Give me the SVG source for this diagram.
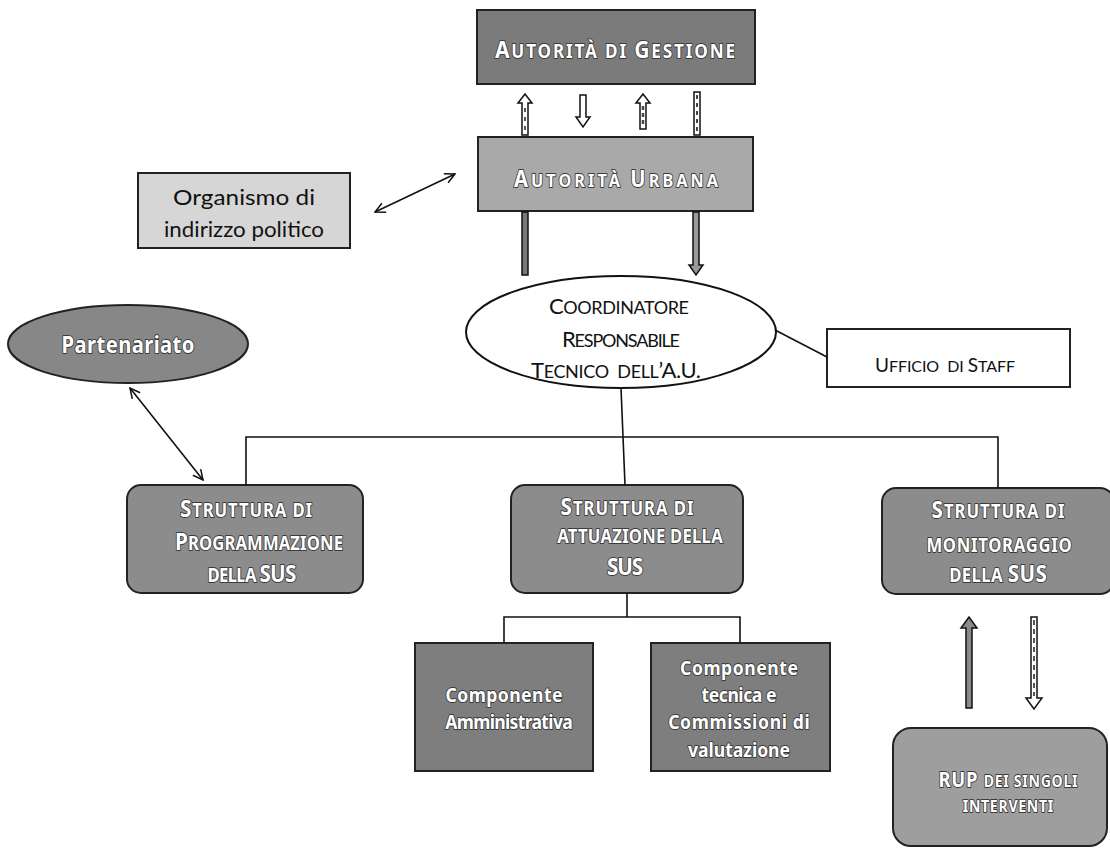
<svg xmlns="http://www.w3.org/2000/svg" width="1110" height="853" viewBox="0 0 1110 853">
<style>
  .t { font-family: "Noto Sans", "Open Sans", "Liberation Sans", sans-serif; text-anchor: middle; }
  .r { font-family: Lato, "Noto Sans", "Liberation Sans", sans-serif; text-anchor: middle; fill: #111111; }
  .w { fill: #ffffff; font-weight: bold; stroke: #3a3a3a; stroke-width: 1.8; paint-order: stroke; stroke-linejoin: round; }
  .ln { stroke: #111111; stroke-width: 1.6; fill: none; }
  .box { stroke: #222222; stroke-width: 2; }
  .blk { stroke: #111111; stroke-width: 1.5; }
</style>
<defs>
  <marker id="open" viewBox="0 0 12 12" refX="11" refY="6" markerWidth="12" markerHeight="12" markerUnits="userSpaceOnUse" orient="auto-start-reverse">
    <path d="M1,1 L11,6 L1,11" fill="none" stroke="#111" stroke-width="1.5"/>
  </marker>
</defs>
<rect width="1110" height="853" fill="#ffffff"/>

<g id="autorita-gestione">
  <rect x="477" y="10" width="278" height="74" fill="#7b7b7b" class="box"/>
  <text transform="translate(615,58) scale(0.88,1)" class="t w" font-size="24" textLength="273" lengthAdjust="spacing">A<tspan font-size="19.5">UTORITÀ DI </tspan>G<tspan font-size="19.5">ESTIONE</tspan></text>
</g>

<g id="autorita-urbana">
  <rect x="478" y="137" width="275" height="74" fill="#a9a9a9" class="box"/>
  <text transform="translate(616,187) scale(0.88,1)" class="t w" font-size="23" textLength="232" lengthAdjust="spacing">A<tspan font-size="18.5">UTORITÀ </tspan>U<tspan font-size="18.5">RBANA</tspan></text>
</g>

<g id="organismo">
  <rect x="138" y="173" width="212" height="75" fill="#d6d6d6" class="box"/>
  <text x="244" y="205" class="r" font-size="22" textLength="142" lengthAdjust="spacingAndGlyphs">Organismo di</text>
  <text x="244" y="237" class="r" font-size="22" textLength="160" lengthAdjust="spacingAndGlyphs">indirizzo politico</text>
</g>

<g id="coordinatore">
  <ellipse cx="621" cy="332" rx="155" ry="56" fill="#ffffff" stroke="#111" stroke-width="2"/>
  <text x="619" y="314" class="r" font-size="22" textLength="140" lengthAdjust="spacing">C<tspan font-size="18">OORDINATORE</tspan></text>
  <text x="621" y="347" class="r" font-size="22" textLength="118" lengthAdjust="spacing">R<tspan font-size="18">ESPONSABILE</tspan></text>
  <text x="616" y="378" class="r" font-size="22" textLength="170" lengthAdjust="spacing" xml:space="preserve">T<tspan font-size="18">ECNICO  DELL</tspan>’A.U.</text>
</g>

<g id="ufficio-staff">
  <rect x="827" y="329" width="243" height="58" fill="#ffffff" class="box"/>
  <text x="945" y="372" class="r" font-size="19" textLength="140" lengthAdjust="spacing" xml:space="preserve">U<tspan font-size="16">FFICIO  DI </tspan>S<tspan font-size="16">TAFF</tspan></text>
</g>

<g id="partenariato">
  <ellipse cx="128" cy="344" rx="120" ry="39" fill="#878787" stroke="#222" stroke-width="2"/>
  <text transform="translate(128,353) scale(0.88,1)" class="t w" font-size="23" textLength="151" lengthAdjust="spacing">Partenariato</text>
</g>

<g id="struttura-programmazione">
  <rect x="127" y="485" width="236" height="108" rx="14" fill="#8c8c8c" class="box"/>
  <text transform="translate(246,517) scale(0.88,1)" class="t w" font-size="23.5" textLength="150" lengthAdjust="spacing">S<tspan font-size="19">TRUTTURA DI</tspan></text>
  <text transform="translate(259,550) scale(0.88,1)" class="t w" font-size="23.5" textLength="191" lengthAdjust="spacing">P<tspan font-size="19">ROGRAMMAZIONE</tspan></text>
  <text transform="translate(252,582) scale(0.88,1)" class="t w" font-size="23.5" textLength="101" lengthAdjust="spacing"><tspan font-size="19">DELLA </tspan>SUS</text>
</g>

<g id="struttura-attuazione">
  <rect x="511" y="485" width="232" height="108" rx="14" fill="#8c8c8c" class="box"/>
  <text transform="translate(627,515) scale(0.88,1)" class="t w" font-size="23.5" textLength="151" lengthAdjust="spacing">S<tspan font-size="19">TRUTTURA DI</tspan></text>
  <text transform="translate(640,543) scale(0.88,1)" class="t w" font-size="19" textLength="188" lengthAdjust="spacing">ATTUAZIONE DELLA</text>
  <text transform="translate(625,575) scale(0.88,1)" class="t w" font-size="23.5" textLength="41" lengthAdjust="spacing">SUS</text>
</g>

<g id="struttura-monitoraggio">
  <rect x="882" y="488" width="232" height="106" rx="14" fill="#8c8c8c" class="box"/>
  <text transform="translate(998,518) scale(0.88,1)" class="t w" font-size="23.5" textLength="151" lengthAdjust="spacing">S<tspan font-size="19">TRUTTURA DI</tspan></text>
  <text transform="translate(999,552) scale(0.88,1)" class="t w" font-size="19" textLength="165" lengthAdjust="spacing">MONITORAGGIO</text>
  <text transform="translate(998,582) scale(0.88,1)" class="t w" font-size="23.5" textLength="111" lengthAdjust="spacing"><tspan font-size="19">DELLA </tspan>SUS</text>
</g>

<g id="componente-amministrativa">
  <rect x="415" y="643" width="178" height="128" fill="#7e7e7e" class="box"/>
  <text transform="translate(504,702) scale(0.88,1)" class="t w" font-size="20" textLength="133" lengthAdjust="spacing">Componente</text>
  <text transform="translate(509,729) scale(0.88,1)" class="t w" font-size="20" textLength="145" lengthAdjust="spacing">Amministrativa</text>
</g>

<g id="componente-tecnica">
  <rect x="651" y="643" width="179" height="128" fill="#7e7e7e" class="box"/>
  <text transform="translate(739,675) scale(0.88,1)" class="t w" font-size="20" textLength="134" lengthAdjust="spacing">Componente</text>
  <text transform="translate(739,702) scale(0.88,1)" class="t w" font-size="20" textLength="85" lengthAdjust="spacing">tecnica e</text>
  <text transform="translate(739,729) scale(0.88,1)" class="t w" font-size="20" textLength="161" lengthAdjust="spacing">Commissioni di</text>
  <text transform="translate(739,757) scale(0.88,1)" class="t w" font-size="20" textLength="116" lengthAdjust="spacing">valutazione</text>
</g>

<g id="rup">
  <rect x="893" y="728" width="214" height="118" rx="18" fill="#9e9e9e" class="box"/>
  <text transform="translate(1008,787) scale(0.88,1)" class="t w" font-size="21" textLength="158" lengthAdjust="spacing">RUP <tspan font-size="16">DEI SINGOLI</tspan></text>
  <text transform="translate(1008,812) scale(0.88,1)" class="t w" font-size="16" textLength="103" lengthAdjust="spacing">INTERVENTI</text>
</g>

<g id="connectors">
  <!-- block arrows AdG / AU -->
  <path d="M522,135 L522,103 L518,103 L525,94 L532,103 L528,103 L528,135 Z" fill="#ffffff" class="blk"/>
  <line x1="525" y1="108" x2="525" y2="132" stroke="#555" stroke-width="2" stroke-dasharray="4 5"/>
  <path d="M580,95 L586,95 L586,117 L590,117 L583,127 L576,117 L580,117 Z" fill="#ffffff" class="blk"/>
  <path d="M640,129 L640,103 L636,103 L643,94 L650,103 L646,103 L646,129 Z" fill="#ffffff" class="blk"/>
  <line x1="643" y1="106" x2="643" y2="127" stroke="#444" stroke-width="2.5" stroke-dasharray="4 3"/>
  <rect x="694" y="92" width="6" height="43" fill="#ffffff" class="blk"/>
  <line x1="697" y1="95" x2="697" y2="133" stroke="#444" stroke-width="2" stroke-dasharray="4 4"/>
  <!-- AU to coordinatore -->
  <rect x="522" y="212" width="6" height="63" fill="#777" class="blk"/>
  <path d="M693,212 L699,212 L699,265 L703,265 L696,275 L689,265 L693,265 Z" fill="#999" class="blk"/>
  <!-- organismo <-> AU -->
  <line x1="375" y1="212" x2="455" y2="174" class="ln" marker-start="url(#open)" marker-end="url(#open)"/>
  <!-- coordinatore - ufficio -->
  <line x1="775" y1="330" x2="827" y2="357" class="ln"/>
  <!-- coordinatore to strutture -->
  <line x1="621" y1="388" x2="625" y2="485" class="ln"/>
  <polyline points="246,485 246,437 998,437 998,488" class="ln"/>
  <!-- partenariato <-> programmazione -->
  <line x1="130" y1="388" x2="203" y2="480" class="ln" marker-start="url(#open)" marker-end="url(#open)"/>
  <!-- attuazione to componenti -->
  <line x1="627" y1="593" x2="627" y2="617" class="ln"/>
  <polyline points="504,643 504,617 740,617 740,643" class="ln"/>
  <!-- monitoraggio <-> RUP -->
  <path d="M966,708 L966,628 L961,628 L969,617 L977,628 L972,628 L972,708 Z" fill="#8a8a8a" class="blk"/>
  <path d="M1031,617 L1037,617 L1037,698 L1042,698 L1034,709 L1026,698 L1031,698 Z" fill="#ffffff" class="blk"/>
  <line x1="1034" y1="620" x2="1034" y2="696" stroke="#555" stroke-width="2" stroke-dasharray="5 4"/>
</g>
</svg>
